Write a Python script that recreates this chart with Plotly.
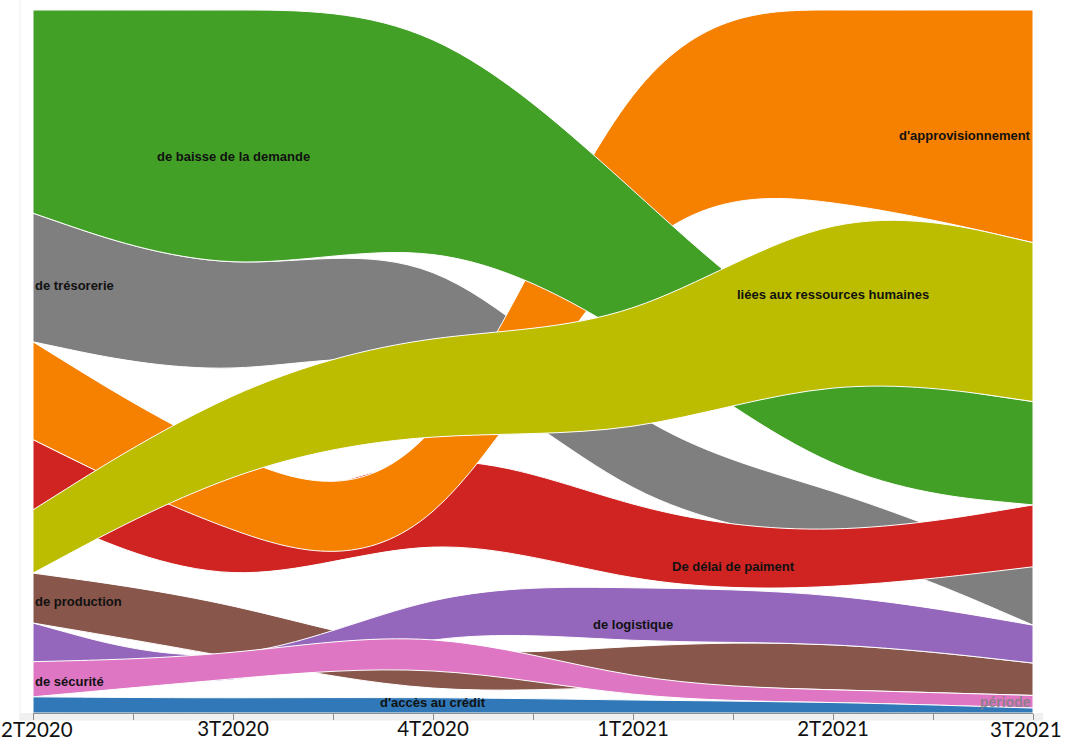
import plotly.graph_objects as go

# ---------------- data ----------------
periods = ["2T2020", "3T2020", "4T2020", "1T2021", "2T2021", "3T2021"]

categories = [
    "d'accès au crédit",
    "d'approvisionnement",
    "de baisse de la demande",
    "De délai de paiment",
    "de logistique",
    "de production",
    "de sécurité",
    "de trésorerie",
    "liées aux ressources humaines",
]

acces_credit = [2.3, 2.1, 2.3, 1.8, 1.6, 0.7]
approvisionnement = [13.9, 10.4, 8.7, 25.6, 26.5, 33.1]
baisse_demande = [28.9, 38.7, 31.2, 19.9, 16.2, 14.7]
delai_paiement = [10.0, 8.8, 13.4, 10.5, 7.4, 8.8]
logistique = [5.5, 2.8, 5.7, 8.0, 7.1, 5.4]
production = [7.1, 8.0, 5.0, 5.7, 7.0, 4.6]
securite = [5.0, 3.1, 5.3, 2.3, 1.7, 1.8]
tresorerie = [18.3, 14.5, 14.4, 10.7, 7.5, 8.3]
ressources_humaines = [9.0, 11.6, 14.2, 15.5, 25.0, 22.6]

series = dict(zip(categories, [
    acces_credit, approvisionnement, baisse_demande, delai_paiement,
    logistique, production, securite, tresorerie, ressources_humaines,
]))

# ---------------- styles ----------------
colors = {
    "d'accès au crédit": "#3078b7",
    "d'approvisionnement": "#f68000",
    "de baisse de la demande": "#42a027",
    "De délai de paiment": "#cf2422",
    "de logistique": "#9467bd",
    "de production": "#88564b",
    "de sécurité": "#de76c3",
    "de trésorerie": "#7f7f7f",
    "liées aux ressources humaines": "#bcbd00",
}

draw_order = [
    "de trésorerie", "De délai de paiment", "d'approvisionnement",
    "de baisse de la demande", "de production", "de logistique",
    "de sécurité", "d'accès au crédit", "liées aux ressources humaines",
]

# label placement: (period position, horizontal anchor, pixel shift up)
label_places = {
    "de baisse de la demande": (1, "center", 6),
    "de trésorerie": (0, "left", 0),
    "d'approvisionnement": (5, "right", 5),
    "liées aux ressources humaines": (4, "center", 0),
    "De délai de paiment": (3.5, "center", -5),
    "de logistique": (3, "center", -5),
    "de production": (0, "left", 0),
    "de sécurité": (0, "left", 0),
    "d'accès au crédit": (2, "center", 3),
}

label_font = dict(family="Liberation Sans, Arial, sans-serif", size=13,
                  color="#111111", weight="bold")
tick_font = dict(family="Lato, Carlito, sans-serif", size=20.5, color="#111111")

# ---------------- stacking (sorted by value, largest on top, normalised) ----------------
n = len(periods)
tops = {c: [0.0] * n for c in categories}
bots = {c: [0.0] * n for c in categories}
for i in range(n):
    total = sum(series[c][i] for c in categories)
    ranked = sorted(categories, key=lambda c: -series[c][i])
    cur = 100.0
    for c in ranked:
        v = series[c][i] * 100.0 / total
        tops[c][i] = cur
        bots[c][i] = cur - v
        cur -= v


def bez(x0, y0, x1, y1, x, y):
    return "C{:.5f},{:.5f} {:.5f},{:.5f} {:.5f},{:.5f}".format(
        (2 * x0 + x1) / 3, (2 * y0 + y1) / 3,
        (x0 + 2 * x1) / 3, (y0 + 2 * y1) / 3,
        (x0 + 4 * x1 + x) / 6, (y0 + 4 * y1 + y) / 6)


def basis(pts, first_cmd):
    """B-spline (basis) curve through control points, as SVG path commands."""
    out = []
    state = 0
    x0 = y0 = x1 = y1 = None
    for (x, y) in pts:
        if state == 0:
            out.append("{}{:.5f},{:.5f}".format(first_cmd, x, y))
            state = 1
        elif state == 1:
            state = 2
        else:
            if state == 2:
                out.append("L{:.5f},{:.5f}".format((5 * x0 + x1) / 6, (5 * y0 + y1) / 6))
                state = 3
            out.append(bez(x0, y0, x1, y1, x, y))
        x0, y0, x1, y1 = x1, y1, x, y
    if state == 3:
        out.append(bez(x0, y0, x1, y1, x1, y1))
        out.append("L{:.5f},{:.5f}".format(x1, y1))
    elif state == 2:
        out.append("L{:.5f},{:.5f}".format(x1, y1))
    return out


xs = list(range(n))
shapes = []

# light frame of the original view
shapes.append(dict(type="rect", xref="paper", yref="paper", x0=-0.013, x1=1.01,
                   y0=-0.0105, y1=0, fillcolor="#f0f0f0", line=dict(width=0), layer="below"))
shapes.append(dict(type="line", xref="paper", yref="paper", x0=-0.013, x1=-0.013,
                   y0=-0.0105, y1=1.0142, line=dict(color="#eeeeee", width=1), layer="below"))

for c in draw_order:
    top_pts = list(zip(xs, tops[c]))
    bot_pts = list(zip(xs, bots[c]))[::-1]
    path = " ".join(basis(top_pts, "M") + basis(bot_pts, "L")) + " Z"
    shapes.append(dict(type="path", path=path, xref="x", yref="y",
                       fillcolor=colors[c], line=dict(color="white", width=1),
                       layer="below"))

annotations = []
for c, (p, anchor, dy) in label_places.items():
    lo = int(p)
    hi = min(lo + 1, n - 1)
    f = p - lo
    t = tops[c][lo] * (1 - f) + tops[c][hi] * f
    b = bots[c][lo] * (1 - f) + bots[c][hi] * f
    y = t - 0.56 * (t - b)
    annotations.append(dict(x=p, y=y, xref="x", yref="y", text=c, showarrow=False,
                            xanchor=anchor, yanchor="middle", yshift=dy,
                            font=label_font))

annotations.append(dict(x=n - 1, y=0, xref="x", yref="y", text="période", showarrow=False,
                        xanchor="right", yanchor="bottom", yshift=1,
                        font=dict(family="Liberation Sans, Arial, sans-serif",
                                  size=14, color="rgba(128,128,128,0.85)", weight="bold")))

# end period labels kept inside the picture (like the original)
annotations.append(dict(x=0, y=0, xref="x", yref="paper", text=periods[0], showarrow=False,
                        xanchor="left", yanchor="middle", xshift=-34, yshift=-16,
                        font=tick_font))
annotations.append(dict(x=n - 1, y=0, xref="x", yref="paper", text=periods[-1], showarrow=False,
                        xanchor="right", yanchor="middle", xshift=31, yshift=-16,
                        font=tick_font))

tickvals = [i * 0.5 for i in range(2 * (n - 1) + 1)]
ticktext = [periods[int(v)] if (v == int(v) and 0 < v < n - 1) else "" for v in tickvals]

fig = go.Figure()
fig.update_layout(
    width=1068, height=747,
    autosize=False,
    margin=dict(l=33, r=35, t=10, b=34, autoexpand=False),
    paper_bgcolor="white", plot_bgcolor="white",
    showlegend=False,
    shapes=shapes,
    annotations=annotations,
    xaxis=dict(range=[0, n - 1], showgrid=False, zeroline=False, automargin=False,
               showline=True, linecolor="#8c8c8c", linewidth=1,
               ticks="outside", ticklen=6, tickcolor="#8c8c8c", tickwidth=1,
               tickmode="array", tickvals=tickvals, ticktext=ticktext,
               ticklabelstandoff=-9,
               tickfont=tick_font, fixedrange=True),
    yaxis=dict(range=[0, 100], visible=False, fixedrange=True, automargin=False),
)

fig.write_html("out.html",
               config={"displayModeBar": False, "staticPlot": True},
               post_script="document.body.style.margin='0';document.body.style.overflow='hidden';")
